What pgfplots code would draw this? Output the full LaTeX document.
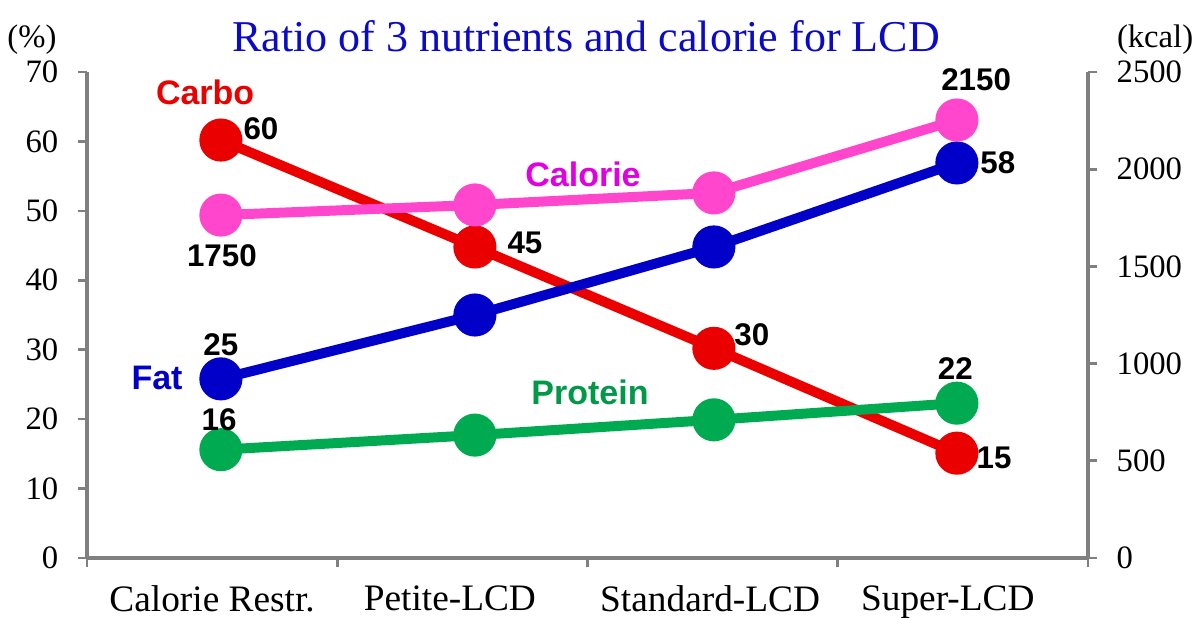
\documentclass[border=0pt]{standalone}
\usepackage{pgfplots}
\pgfplotsset{compat=1.18}
\usepackage{fontspec}
\setmainfont{Liberation Serif}
\newfontfamily\lsans{Liberation Sans}
\definecolor{cred}{RGB}{235,0,0}
\definecolor{cblue}{RGB}{0,0,200}
\definecolor{cgreen}{RGB}{0,170,80}
\definecolor{cpink}{RGB}{255,70,205}
\definecolor{tmag}{RGB}{225,0,225}
\definecolor{tblue}{RGB}{10,10,200}
\definecolor{axgray}{RGB}{128,128,128}
\newcommand{\tfont}{\fontsize{24.5}{24.5}\selectfont}
\newcommand{\nfont}{\lsans\bfseries\fontsize{23.5}{24}\selectfont}
\newcommand{\sfont}{\lsans\bfseries\fontsize{25.5}{26}\selectfont}
\pgfplotsset{
  common/.style={
    width=750.75pt, height=364.5pt, scale only axis,
    xmin=0, xmax=4, clip=false,
    tick align=outside, major tick length=7pt,
    tick style={draw=axgray, line width=2pt},
    axis line style={draw=axgray, line width=3pt},
    tick label style={font=\tfont},
    /pgf/number format/assume math mode=true,
    /pgf/number format/1000 sep={},
  }
}
\begin{document}
\begin{tikzpicture}
\begin{axis}[common, name=a,
  ymin=0, ymax=70,
  axis x line*=bottom, axis y line*=left,
  xtick={0,1,2,3,4}, xticklabels={,,,,,},
  ytick={0,10,...,70},
  yticklabel style={xshift=-11pt},
  extra x ticks={0.5,1.45,2.49,3.44},
  extra x tick labels={Calorie Restr.,Petite-LCD,Standard-LCD,Super-LCD},
  extra x tick style={major tick length=0pt, tick style={draw=none},
     xticklabel style={font=\fontsize{28}{28}\selectfont, yshift=-17pt}},
]
\addplot[cred, line width=7.5pt, mark=*, mark size=12.4pt] coordinates {
  (0.535,60.2) (1.55,44.8) (2.505,30.2) (3.476,15.1)};
\addplot[cblue, line width=7.5pt, mark=*, mark size=12.4pt] coordinates {
  (0.535,25.8) (1.55,35.0) (2.505,44.8) (3.476,56.9)};
\addplot[cgreen, line width=7.5pt, mark=*, mark size=12.4pt] coordinates {
  (0.535,15.6) (1.55,17.7) (2.505,19.9) (3.476,22.3)};
\end{axis}
\begin{axis}[common,
  at={(a.south west)}, anchor=south west,
  ymin=0, ymax=2500,
  axis x line=none, axis y line*=right,
  ytick={0,500,...,2500},
  yticklabel style={xshift=11pt},
]
\addplot[cpink, line width=7.5pt, mark=*, mark size=12.4pt] coordinates {
  (0.535,1764) (1.55,1816) (2.505,1878) (3.476,2253)};
\end{axis}
\begin{axis}[common, at={(a.south west)}, anchor=south west,
  ymin=0, ymax=70, hide axis]
\node[text=cred, font=\sfont] at (axis cs:0.472,67.1) {Carbo};
\node[font=\nfont] at (axis cs:0.695,61.9) {60};
\node[font=\nfont] at (axis cs:0.539,43.5) {1750};
\node[text=tmag, font=\sfont] at (axis cs:1.982,55.2) {Calorie};
\node[font=\nfont] at (axis cs:1.750,45.4) {45};
\node[font=\nfont] at (axis cs:2.657,32.1) {30};
\node[font=\nfont] at (axis cs:3.553,68.9) {2150};
\node[font=\nfont] at (axis cs:3.640,57.0) {58};
\node[text=cblue, font=\sfont] at (axis cs:0.280,25.9) {Fat};
\node[font=\nfont] at (axis cs:0.535,30.7) {25};
\node[font=\nfont] at (axis cs:0.528,19.9) {16};
\node[text=cgreen!90!black, font=\sfont] at (axis cs:2.010,23.9) {Protein};
\node[font=\nfont] at (axis cs:3.470,27.3) {22};
\node[font=\nfont] at (axis cs:3.625,14.4) {15};
\node[font=\tfont] at (axis cs:-0.22,74.6) {(\%)};
\node[font=\tfont] at (axis cs:4.268,74.6) {(kcal)};
\node[text=tblue, font=\fontsize{33}{33}\selectfont] at (axis cs:1.994,75.2) {Ratio of 3 nutrients and calorie for LCD};
\end{axis}
\pgfresetboundingbox
\path ([xshift=-65.25pt,yshift=-44.25pt]a.south west) rectangle ([xshift=86.25pt,yshift=54pt]a.north east);
\end{tikzpicture}
\end{document}
